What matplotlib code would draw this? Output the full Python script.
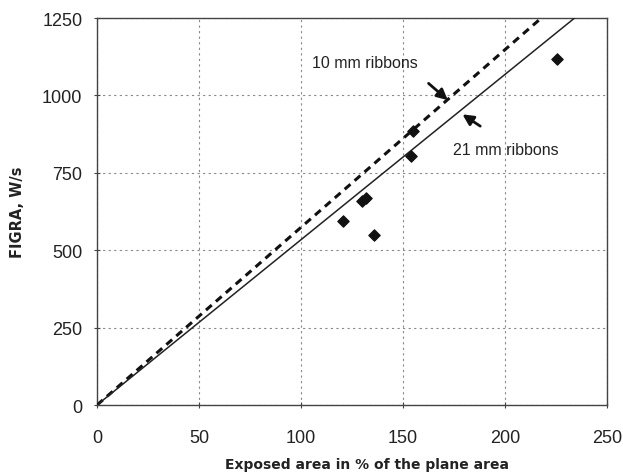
import matplotlib
matplotlib.use("Agg")
import matplotlib.pyplot as plt
import numpy as np

plt.rcParams['font.family'] = ['Liberation Sans', 'DejaVu Sans']

# Data
area_pct = [120.5, 130, 132, 136, 154, 155, 225.5]
figra = [596, 660, 668, 548, 805, 886, 1118]
slope_10mm = 5.74   # W/s per % (dashed fit)
slope_21mm = 5.34   # W/s per % (solid fit)
x_ticks = [0, 50, 100, 150, 200, 250]
y_ticks = [0, 250, 500, 750, 1000, 1250]

fig = plt.figure(figsize=(6.23, 4.77), dpi=100)
ax = fig.add_axes([0.1557, 0.1488, 0.8186, 0.8112])

xl = np.array([0, 250.0])
ax.plot(xl, slope_10mm * xl, color='#111111', lw=2.2, ls=(0, (2.5, 1.8)), zorder=3)
ax.plot(xl, slope_21mm * xl, color='#222222', lw=1.1, ls='-', zorder=3)
ax.scatter(area_pct, figra, s=34, marker='D', color='#111111', zorder=4,
           linewidths=0.8, edgecolors='#111111')

ax.set_xlim(0, 250)
ax.set_ylim(0, 1250)
ax.set_xticks(x_ticks)
ax.set_yticks(y_ticks)
ax.grid(True, color='#8a8a8a', ls=(0, (2, 3)), lw=0.8)
for s in ax.spines.values():
    s.set_color('#444444')
    s.set_linewidth(1.0)
ax.tick_params(direction='inout', length=5, width=0.8, color='#444444',
               labelsize=13, labelcolor='#222222')
ax.tick_params(axis='x', pad=15)
ax.tick_params(axis='y', pad=8)

ax.set_xlabel('Exposed area in % of the plane area', fontsize=10, fontweight='bold',
              color='#222222', labelpad=7, family='DejaVu Sans')
ax.xaxis.set_label_coords(0.53, -0.135)
ax.set_ylabel('FIGRA, W/s', fontsize=10.5, fontweight='bold', color='#222222',
              labelpad=12, family='DejaVu Sans')

ax.annotate('10 mm ribbons', xy=(173, 979), xytext=(105.5, 1108), fontsize=11.5,
            color='#222222', va='center', ha='left')
ax.annotate('', xy=(173, 979), xytext=(161.5, 1045),
            arrowprops=dict(arrowstyle='-|>', color='#111111', lw=2.0, mutation_scale=16))
ax.annotate('21 mm ribbons', xy=(178, 944), xytext=(174.5, 825), fontsize=11.5,
            color='#222222', va='center', ha='left')
ax.annotate('', xy=(178, 944), xytext=(189, 896),
            arrowprops=dict(arrowstyle='-|>', color='#111111', lw=2.0, mutation_scale=16))

fig.savefig('out.png', dpi=100, facecolor='white')
